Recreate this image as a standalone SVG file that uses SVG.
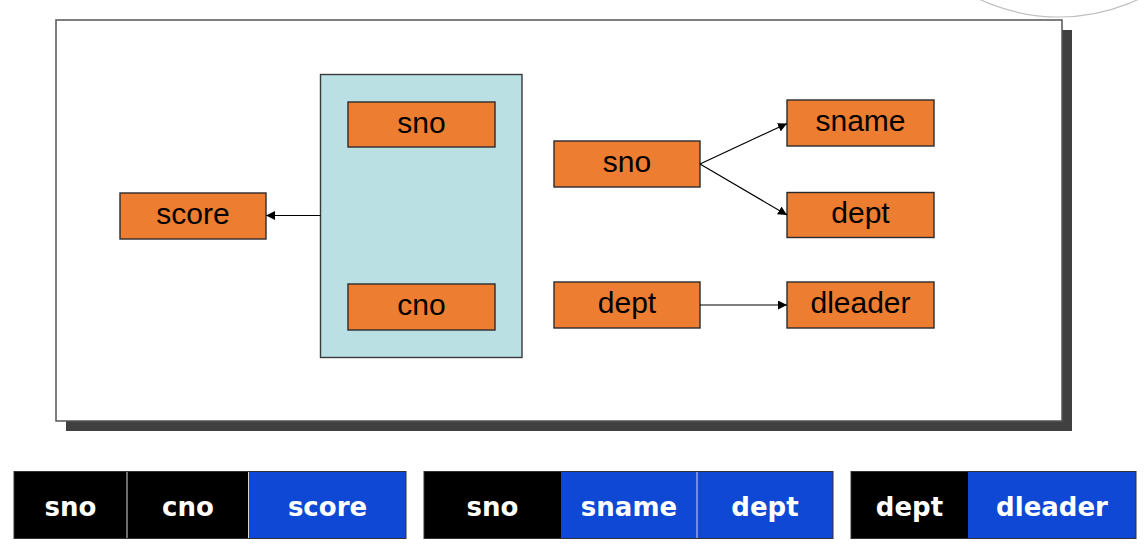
<svg xmlns="http://www.w3.org/2000/svg" width="1145" height="546" viewBox="0 0 1145 546">
<style>
.node{fill:#ED7D31;stroke:#2b2b2b;stroke-width:1.4}
.lbl{font-family:"Liberation Sans",Arial,sans-serif;font-size:30px;fill:#000;text-anchor:middle}
.conn{stroke:#000;stroke-width:1.2;fill:none;marker-end:url(#ah)}
.blk{fill:#000}
.blu{fill:#0E48D4}
.tl{font-family:"DejaVu Sans",Verdana,sans-serif;font-weight:bold;font-size:26px;fill:#fff;text-anchor:middle}
.div{stroke:#d8d8d8;stroke-width:1}
</style>
<defs>
<marker id="ah" viewBox="0 0 10 10" refX="10" refY="5" markerWidth="9" markerHeight="9" markerUnits="userSpaceOnUse" orient="auto">
<path d="M0,0 L10,5 L0,10 Z" fill="#000"/>
</marker>
</defs>
<rect width="1145" height="546" fill="#fff"/>
<circle cx="1059" cy="-170" r="187" fill="none" stroke="#c0c0c0" stroke-width="1.2"/>
<g id="frame">
<rect x="66" y="30" width="1006" height="401" fill="#404040"/>
<rect x="56" y="20" width="1006" height="401" fill="#fff" stroke="#555" stroke-width="1.5"/>
</g>
<g id="composite">
<rect x="320.5" y="74.5" width="201.5" height="283" fill="#BAE0E3" stroke="#3a3a3a" stroke-width="1.4"/>
</g>
<g id="n-sno-inner">
<rect class="node" x="348" y="102" width="147" height="45"/>
<text class="lbl" x="421.5" y="132.5">sno</text>
</g>
<g id="n-cno-inner">
<rect class="node" x="348" y="284" width="147" height="46"/>
<text class="lbl" x="421.5" y="315">cno</text>
</g>
<g id="n-score">
<rect class="node" x="120" y="193" width="146" height="46"/>
<text class="lbl" x="193" y="224">score</text>
</g>
<g id="n-sno">
<rect class="node" x="554" y="141" width="146" height="46"/>
<text class="lbl" x="627" y="172">sno</text>
</g>
<g id="n-sname">
<rect class="node" x="787" y="100" width="147" height="46"/>
<text class="lbl" x="860.5" y="131">sname</text>
</g>
<g id="n-dept">
<rect class="node" x="787" y="192.5" width="147" height="45"/>
<text class="lbl" x="860.5" y="223">dept</text>
</g>
<g id="n-dept2">
<rect class="node" x="554" y="282" width="146" height="46"/>
<text class="lbl" x="627" y="313">dept</text>
</g>
<g id="n-dleader">
<rect class="node" x="787" y="282" width="147" height="46"/>
<text class="lbl" x="860.5" y="313">dleader</text>
</g>
<g id="connectors">
<line class="conn" x1="320.5" y1="215.5" x2="266" y2="215.5"/>
<line class="conn" x1="700" y1="164" x2="787" y2="123.5"/>
<line class="conn" x1="700" y1="164" x2="787" y2="215"/>
<line class="conn" x1="700" y1="305" x2="787" y2="305"/>
</g>
<g id="table-score">
<rect class="blk" x="14" y="471.5" width="234" height="67"/>
<rect class="blu" x="248" y="471.5" width="158" height="67"/>
<line class="div" x1="127" y1="471.5" x2="127" y2="538.5"/>
<line class="div" x1="248.5" y1="471.5" x2="248.5" y2="538.5"/>
<rect x="14" y="471.5" width="392" height="67" fill="none" stroke="#333" stroke-width="1"/>
<text class="tl" x="70.5" y="516">sno</text>
<text class="tl" x="188" y="516">cno</text>
<text class="tl" x="327.5" y="516">score</text>
</g>
<g id="table-student">
<rect class="blk" x="424" y="471.5" width="137" height="67"/>
<rect class="blu" x="561" y="471.5" width="272" height="67"/>
<line class="div" x1="697" y1="471.5" x2="697" y2="538.5"/>
<rect x="424" y="471.5" width="409" height="67" fill="none" stroke="#333" stroke-width="1"/>
<text class="tl" x="492.5" y="516">sno</text>
<text class="tl" x="629" y="516">sname</text>
<text class="tl" x="765" y="516">dept</text>
</g>
<g id="table-dept">
<rect class="blk" x="851" y="471.5" width="117" height="67"/>
<rect class="blu" x="968" y="471.5" width="168" height="67"/>
<rect x="851" y="471.5" width="285" height="67" fill="none" stroke="#333" stroke-width="1"/>
<text class="tl" x="909.5" y="516">dept</text>
<text class="tl" x="1052" y="516">dleader</text>
</g>
</svg>
